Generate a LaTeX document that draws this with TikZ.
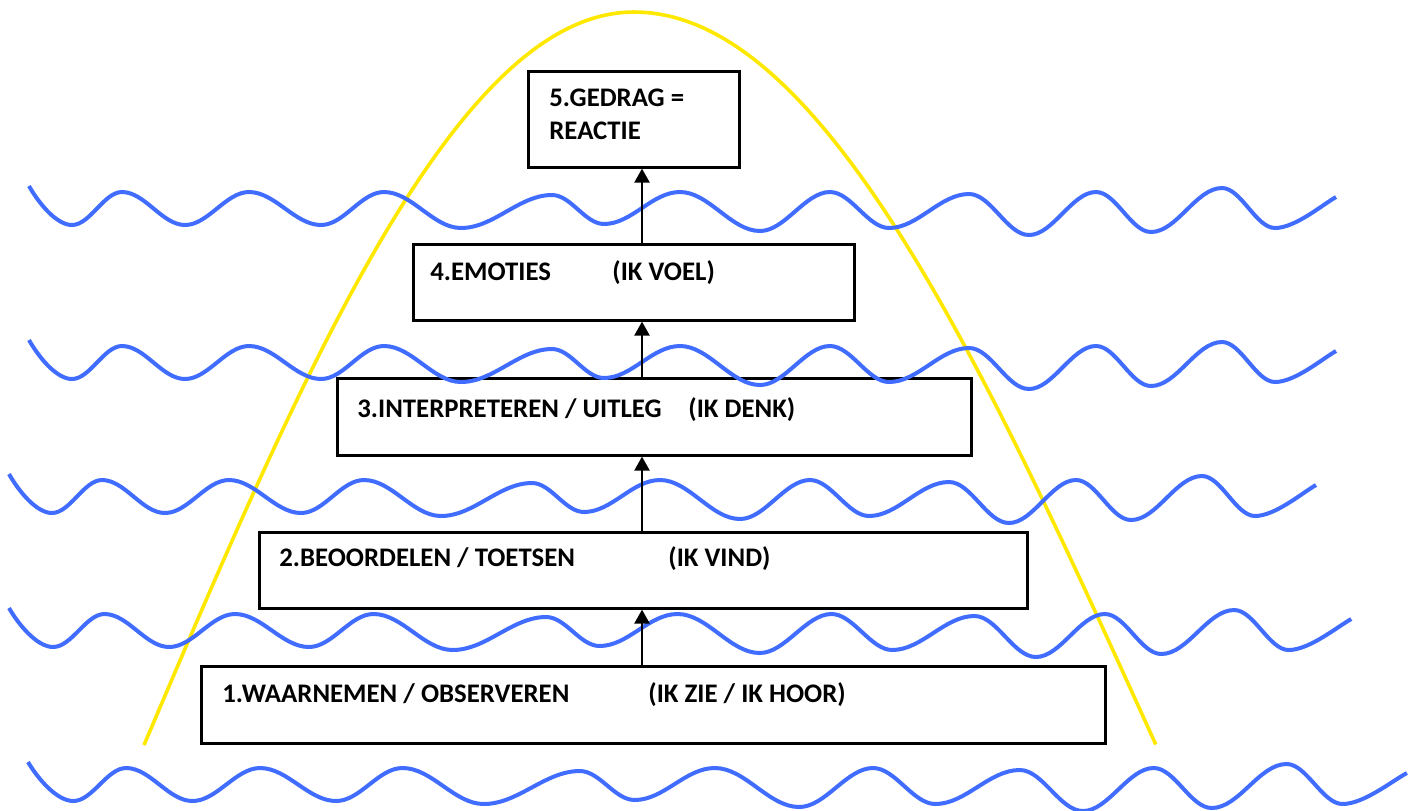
\documentclass[tikz,border=0pt]{standalone}
\usepackage{fontspec}
\setmainfont{Carlito}
\usetikzlibrary{arrows.meta}
\definecolor{waveblue}{RGB}{64,108,255}
\definecolor{archyellow}{RGB}{255,232,0}

\tikzset{
  wavestyle/.style={draw=waveblue,line width=2pt},
  archline/.style={draw=archyellow,line width=1.8pt},
  stagebox/.style={draw=black,line width=1.3pt,anchor=north west,inner sep=0pt},
  stagetext/.style={anchor=base west,inner sep=0pt,font=\fontsize{13.4pt}{16pt}\selectfont\bfseries},
  stagearrow/.style={draw=black,line width=1.2pt,-{Triangle[width=7.5pt,length=7pt]}},
  % one undulating line; placed several times with shifts and stretches
  seawave/.pic={
    \draw[wavestyle] (0,186)
      .. controls +(9,16) and +(-16,0) .. (43,225)
      .. controls +(18,0) and +(-18,0) .. (93,192)
      .. controls +(23,0) and +(-23,0) .. (156,225)
      .. controls +(23,0) and +(-23,0) .. (220,192)
      .. controls +(26,0) and +(-26,0) .. (292,225)
      .. controls +(23,0) and +(-23,0) .. (355,192)
      .. controls +(28,0) and +(-28,0) .. (432,228)
      .. controls +(33,0) and +(-33,0) .. (523,195)
      .. controls +(19,0) and +(-19,0) .. (575,224)
      .. controls +(28,0) and +(-28,0) .. (651,192)
      .. controls +(29,0) and +(-29,0) .. (731,231)
      .. controls +(25,0) and +(-25,0) .. (801,192)
      .. controls +(21,0) and +(-21,0) .. (860,228)
      .. controls +(29,0) and +(-29,0) .. (940,194)
      .. controls +(22,0) and +(-22,0) .. (1000,235)
      .. controls +(24,0) and +(-24,0) .. (1067,192)
      .. controls +(20,0) and +(-20,0) .. (1122,232)
      .. controls +(26,0) and +(-26,0) .. (1193,188)
      .. controls +(19,0) and +(-19,0) .. (1246,228)
      .. controls +(20,0) and +(-14,8) .. (1307,197);
  }
}

\begin{document}
\begin{tikzpicture}[x=0.5pt,y=-0.5pt]
\useasboundingbox (0,0) rectangle (1413,810);

% yellow arch
\draw[archline] plot[domain=-1:1,samples=121,smooth]
  ({634+(\x<0 ? 490 : 522)*\x},{12+733*(1-cos(90*\x))});

% stage boxes
\node[stagebox,minimum width=452pt,minimum height=38.5pt] (b1) at (200,665) {};
\node[stagebox,minimum width=384pt,minimum height=38pt]   (b2) at (258,531) {};
\node[stagebox,minimum width=317pt,minimum height=38.5pt] (b3) at (336,377) {};
\node[stagebox,minimum width=220.5pt,minimum height=38pt] (b4) at (412,243) {};
\node[stagebox,minimum width=105.5pt,minimum height=48pt] (b5) at (527,70) {};

% waves
\pic at (29,0) {seawave};
\pic at (29,154) {seawave};
\pic at (9,288) {seawave};
\pic[xscale=1.027] at (9,422) {seawave};
\pic[xscale=1.055] at (28,576) {seawave};

% upward arrows between stages
\coordinate (spine) at (642,0);
\draw[stagearrow] (b1.north -| spine) -- (b2.south -| spine);
\draw[stagearrow] (b2.north -| spine) -- (b3.south -| spine);
\draw[stagearrow] (b3.north -| spine) -- (b4.south -| spine);
\draw[stagearrow] (b4.north -| spine) -- (b5.south -| spine);

% labels
\node[stagetext] (t1a) at (222,702) {1.WAARNEMEN / OBSERVEREN};
\node[stagetext] (t1b) at (648,702) {(IK ZIE / IK HOOR)};
\node[stagetext] (t2a) at (279,566) {2.BEOORDELEN / TOETSEN};
\node[stagetext] (t2b) at (668,566) {(IK VIND)};
\node[stagetext] (t3a) at (357,417) {3.INTERPRETEREN / UITLEG};
\node[stagetext] (t3b) at (688,417) {(IK DENK)};
\node[stagetext] (t4a) at (430,280) {4.EMOTIES};
\node[stagetext] (t4b) at (612,280) {(IK VOEL)};
\node[stagetext] (t5a) at (549,106) {5.GEDRAG =};
\node[stagetext] (t5b) at (549,139) {REACTIE};
\end{tikzpicture}
\end{document}
